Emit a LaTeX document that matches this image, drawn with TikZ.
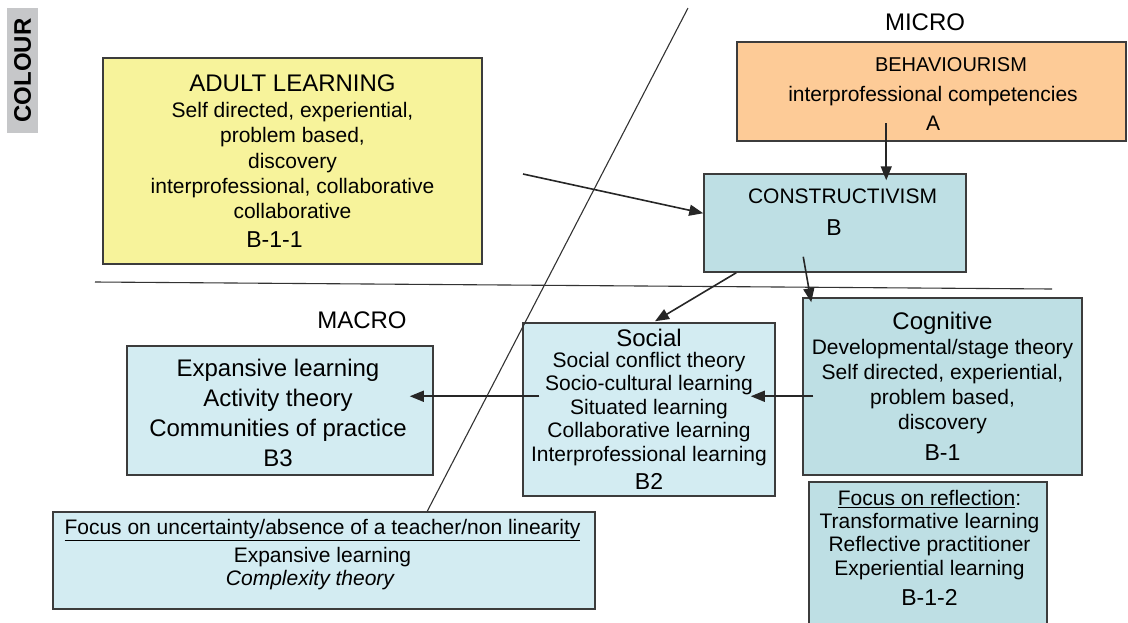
\documentclass[tikz,border=0pt]{standalone}
\usepackage{fontspec}
\setmainfont{Liberation Sans}
\usetikzlibrary{arrows.meta,calc}
\definecolor{adultyellow}{HTML}{F7F39B}
\definecolor{behorange}{HTML}{FDCB97}
\definecolor{microteal}{HTML}{BEDFE4}
\definecolor{macroblue}{HTML}{D3ECF2}
\definecolor{tabgrey}{HTML}{C6C7C9}
\definecolor{edgegrey}{HTML}{3C3C3C}
\begin{document}
\begin{tikzpicture}[x=1pt,y=-1pt,
    box/.style={draw=edgegrey,line width=1.5pt,inner sep=0pt,align=center},
    words/.style={align=center,inner sep=0pt},
    arr/.style={-{Triangle[length=14pt,width=11pt]},line width=1.6pt,draw=black!85},
    divide/.style={line width=1.1pt,draw=black!80}]
      \useasboundingbox (0,0) rectangle (1128,622);
      \clip (0,0) rectangle (1128,622);
      \node[fill=tabgrey,rotate=90,minimum width=125,minimum height=31,inner sep=0pt,font=\fontsize{24}{24}\selectfont\bfseries] (tab) at (22.5,70.5) {COLOUR};
      \node[box,fill=adultyellow,minimum width=379,minimum height=206,font=\fontsize{21}{25.2}\selectfont] (adult) at (292.5,161)
        {{\fontsize{24}{25}\selectfont ADULT LEARNING}\\[1pt] Self directed, experiential,\\ problem based,\\ discovery\\ interprofessional, collaborative\\ collaborative\\[3.5pt] {\fontsize{23}{25}\selectfont B-1-1}\hspace*{36pt}};
      \node[box,fill=behorange,minimum width=389,minimum height=99] (beh) at (931.5,91.5) {};
      \node[words,anchor=north,font=\fontsize{21}{29.5}\selectfont] (beh-text) at ($(beh.north)+(1.5,16.5)$)
        {\hspace*{36pt}{\fontsize{20}{29}\selectfont BEHAVIOURISM}\\ interprofessional competencies\\ A};
      \node[box,fill=microteal,minimum width=262,minimum height=98] (con) at (835,223) {};
      \node[words,anchor=north,font=\fontsize{21}{32}\selectfont] (con-text) at ($(con.north)+(7.5,15.5)$)
        {CONSTRUCTIVISM\\ {\fontsize{23}{32}\selectfont B}\hspace*{17pt}};
      \node[box,fill=macroblue,minimum width=252,minimum height=173,font=\fontsize{21}{23.5}\selectfont] (soc) at (649,409.5)
        {{\fontsize{24}{24}\selectfont Social}\\[-2.5pt] Social conflict theory\\ Socio-cultural learning\\ Situated learning\\ Collaborative learning\\ Interprofessional learning\\[5pt] {\fontsize{23}{24}\selectfont B2}};
      \node[box,fill=microteal,minimum width=279,minimum height=177,font=\fontsize{21}{25.3}\selectfont] (cog) at (942.5,386.5)
        {{\fontsize{24}{24}\selectfont Cognitive}\\[-1pt] Developmental/stage theory\\ Self directed, experiential,\\ problem based,\\ discovery\hspace*{28pt}\\[5.4pt] {\fontsize{23}{24}\selectfont B-1}};
      \node[box,fill=macroblue,minimum width=306,minimum height=129] (b3) at (280,410.5) {};
      \node[words,anchor=north,font=\fontsize{24}{30}\selectfont] (b3-text) at ($(b3.north)+(-2,14)$)
        {Expansive learning\\ Activity theory\\ Communities of practice\\ B3};
      \node[box,fill=macroblue,minimum width=542,minimum height=97] (unc) at (324,560.5) {};
      \node[words,anchor=north,font=\fontsize{21}{23}\selectfont] (unc-text) at ($(unc.north)+(-1.5,7.5)$)
        {\underline{Focus on uncertainty/absence of a teacher/non linearity}\\[5pt] Expansive learning\hspace*{24pt}\\ \textit{Complexity theory}\hspace*{24pt}};
      \node[box,fill=microteal,minimum width=238,minimum height=178] (refl) at (928,571) {};
      \node[words,anchor=north,font=\fontsize{21}{23.3}\selectfont] (refl-text) at ($(refl.north)+(1.5,8.5)$)
        {\underline{Focus on reflection}:\\ Transformative learning\\ Reflective practitioner\\ Experiential learning\\[7pt] {\fontsize{23}{24}\selectfont B-1-2}};
      \node[words,font=\fontsize{24}{24}\selectfont] (micro) at (925,22) {MICRO};
      \node[words,font=\fontsize{24}{24}\selectfont] (macro) at (362,320) {MACRO};
      \coordinate (split-w) at (95,282);
      \coordinate (split-e) at (1052,289);
      \coordinate (slant-top) at (688,8);
      \draw[divide] (split-w) -- (split-e);
      \draw[divide] (slant-top) -- ($(unc.north west)+(375,0)$);
      \coordinate (adult-out) at (523,174);
      \draw[arr] (adult-out) -- ($(con.north west)+(0,40)$);
      \draw[arr] ($(beh.north west)+(150,82)$) -- ($(con.north west)+(183,7)$);
      \draw[arr] ($(con.south west)+(33,0)$) -- ($(soc.north)+(6,-1)$);
      \draw[arr] ($(con.south west)+(100,-16)$) -- ($(cog.north west)+(9,5)$);
      \draw[arr] ($(cog.north west)+(11,99)$) -- ($(soc.north east)+(-25,74)$);
      \draw[arr] ($(soc.north west)+(17,74)$) -- ($(b3.north east)+(-24,51)$);
    \end{tikzpicture}
\end{document}
